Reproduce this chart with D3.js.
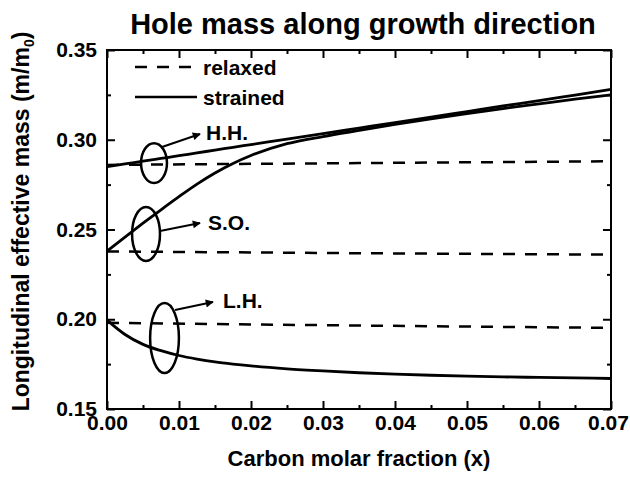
<!DOCTYPE html>
<html>
<head>
<meta charset="utf-8">
<script src="https://cdn.jsdelivr.net/npm/d3@7"></script>
<style>
  html, body { margin: 0; padding: 0; background: #fff; }
  svg text { font-family: "Liberation Sans", Arial, Helvetica, sans-serif; font-weight: bold; fill: #000; }
</style>
</head>
<body>
<svg id="chart" width="630" height="478"></svg>
<script>
// Carbon molar fraction sample points for the strained curves
const strainedX = [0, 0.0025, 0.005, 0.0075, 0.01, 0.0125, 0.015, 0.0175, 0.02, 0.025, 0.03, 0.035, 0.04, 0.045, 0.05, 0.055, 0.06, 0.065, 0.07];
// Longitudinal hole effective masses (m/m0), strained Si1-xCx
const hhStrained = [0.285, 0.2865, 0.2881, 0.2896, 0.2911, 0.2927, 0.2942, 0.2958, 0.2973, 0.3004, 0.3034, 0.3065, 0.3096, 0.3126, 0.3157, 0.3188, 0.3218, 0.3249, 0.328];
const soStrained = [0.238, 0.2458, 0.2535, 0.261, 0.2683, 0.2753, 0.2815, 0.2868, 0.2912, 0.2978, 0.3018, 0.3052, 0.3085, 0.3116, 0.3146, 0.3174, 0.32, 0.3226, 0.325];
const lhStrained = [0.1995, 0.1915, 0.186, 0.1825, 0.1798, 0.1778, 0.1762, 0.175, 0.174, 0.1724, 0.1712, 0.1702, 0.1694, 0.1688, 0.1683, 0.1679, 0.1676, 0.1673, 0.167];
// Relaxed alloy: nearly constant masses
const relaxedX = [0, 0.035, 0.07];
const hhRelaxed = [0.286, 0.287, 0.288];
const soRelaxed = [0.2378, 0.2368, 0.236];
const lhRelaxed = [0.198, 0.1965, 0.1952];

const xTicks = [0, 0.01, 0.02, 0.03, 0.04, 0.05, 0.06, 0.07];
const xMinorTicks = [0.005, 0.015, 0.025, 0.035, 0.045, 0.055, 0.065];
const yTicks = [0.15, 0.20, 0.25, 0.30, 0.35];
const yMinorTicks = [0.175, 0.225, 0.275, 0.325];

// Band labels with their ellipse (centre, radii) and arrow (from, to), in data units
const bandNotes = [
  { label: "H.H.", cx: 0.00653, cy: 0.2870, rx: 0.0018, ry: 0.0111, from: [0.00764, 0.2960], to: [0.01292, 0.3032], text: [0.01375, 0.2999] },
  { label: "S.O.", cx: 0.00542, cy: 0.2475, rx: 0.00194, ry: 0.0150, from: [0.00736, 0.2492], to: [0.01292, 0.2536], text: [0.01403, 0.2497] },
  { label: "L.H.", cx: 0.00799, cy: 0.1896, rx: 0.0020, ry: 0.0195, from: [0.00944, 0.2052], to: [0.01472, 0.2096], text: [0.01611, 0.2063] }
];

const W = 630, H = 478;
const margin = { top: 50, right: 19, bottom: 69, left: 107 };
const svg = d3.select("#chart");

const x = d3.scaleLinear().domain([0, 0.07]).range([margin.left, W - margin.right]);
const y = d3.scaleLinear().domain([0.15, 0.35]).range([H - margin.bottom, margin.top]);

const fmt = d3.format(".2f");

// Inward ticks on all four sides
function tickAxis(axisFn, scale, values, size, labels) {
  return axisFn(scale).tickValues(values).tickSizeInner(-size).tickSizeOuter(0)
    .tickPadding(labels ? 6 : 0).tickFormat(labels ? fmt : "");
}
const gBottom = svg.append("g").attr("transform", `translate(0,${y(0.15)})`);
gBottom.call(tickAxis(d3.axisBottom, x, xTicks, 8, true));
gBottom.append("g").call(tickAxis(d3.axisBottom, x, xMinorTicks, 4, false));
const gTop = svg.append("g").attr("transform", `translate(0,${y(0.35)})`);
gTop.call(tickAxis(d3.axisTop, x, xTicks, 8, false));
gTop.append("g").call(tickAxis(d3.axisTop, x, xMinorTicks, 4, false));
const gLeft = svg.append("g").attr("transform", `translate(${x(0)},0)`);
gLeft.call(tickAxis(d3.axisLeft, y, yTicks, 8, true));
gLeft.append("g").call(tickAxis(d3.axisLeft, y, yMinorTicks, 4, false));
const gRight = svg.append("g").attr("transform", `translate(${x(0.07)},0)`);
gRight.call(tickAxis(d3.axisRight, y, yTicks, 8, false));
gRight.append("g").call(tickAxis(d3.axisRight, y, yMinorTicks, 4, false));

svg.selectAll(".domain").remove();
svg.selectAll(".tick line").attr("stroke", "#000").attr("stroke-width", 2);
gBottom.selectAll(".tick text").attr("font-size", 21).attr("dy", "0.72em")
  .attr("dx", d => d === 0.07 ? -3 : 0);
gLeft.selectAll(".tick text").attr("font-size", 21).attr("dx", "-4");

// Frame
svg.append("rect")
  .attr("x", x(0)).attr("y", y(0.35))
  .attr("width", x(0.07) - x(0)).attr("height", y(0.15) - y(0.35))
  .attr("fill", "none").attr("stroke", "#000").attr("stroke-width", 2);

// Curves
const line = d3.line().curve(d3.curveMonotoneX);
const plot = svg.append("g");
function drawSeries(xs, ys, dashed) {
  plot.append("path")
    .attr("d", line(xs.map((v, i) => [x(v), y(ys[i])])))
    .attr("fill", "none").attr("stroke", "#000")
    .attr("stroke-width", dashed ? 2.5 : 2.8)
    .attr("stroke-dasharray", dashed ? "12,10" : null);
}
[hhRelaxed, soRelaxed, lhRelaxed].forEach(s => drawSeries(relaxedX, s, true));
[hhStrained, soStrained, lhStrained].forEach(s => drawSeries(strainedX, s, false));

// Arrow head marker
svg.append("defs").append("marker")
  .attr("id", "arrow").attr("viewBox", "0 0 10 10")
  .attr("refX", 9).attr("refY", 5)
  .attr("markerUnits", "userSpaceOnUse")
  .attr("markerWidth", 12).attr("markerHeight", 8).attr("orient", "auto")
  .append("path").attr("d", "M0,0 L10,5 L0,10 Z").attr("fill", "#000");

// Band annotations
const notes = svg.append("g");
bandNotes.forEach(n => {
  notes.append("ellipse")
    .attr("cx", x(n.cx)).attr("cy", y(n.cy))
    .attr("rx", x(n.rx) - x(0)).attr("ry", y(0.15) - y(0.15 + n.ry))
    .attr("fill", "none").attr("stroke", "#000").attr("stroke-width", 2.5);
  notes.append("line")
    .attr("x1", x(n.from[0])).attr("y1", y(n.from[1]))
    .attr("x2", x(n.to[0])).attr("y2", y(n.to[1]))
    .attr("stroke", "#000").attr("stroke-width", 2)
    .attr("marker-end", "url(#arrow)");
  notes.append("text")
    .attr("x", x(n.text[0])).attr("y", y(n.text[1]))
    .attr("font-size", 21).text(n.label);
});

// Legend
const legend = svg.append("g").attr("transform", `translate(${x(0)},${y(0.35)})`);
[["relaxed", "12,10", 17], ["strained", null, 47]].forEach(([name, dash, dy]) => {
  legend.append("line")
    .attr("x1", 28).attr("x2", 90).attr("y1", dy).attr("y2", dy)
    .attr("stroke", "#000").attr("stroke-width", 2.6)
    .attr("stroke-dasharray", dash);
  legend.append("text").attr("x", 96).attr("y", dy + 8)
    .attr("font-size", 21).text(name);
});

// Titles
svg.append("text")
  .attr("x", 363).attr("y", 34)
  .attr("text-anchor", "middle").attr("font-size", 29)
  .text("Hole mass along growth direction");

svg.append("text")
  .attr("x", (x(0) + x(0.07)) / 2).attr("y", 466)
  .attr("text-anchor", "middle").attr("font-size", 22)
  .text("Carbon molar fraction (x)");

const yTitle = svg.append("text")
  .attr("transform", `translate(29,${(y(0.15) + y(0.35)) / 2 - 8}) rotate(-90)`)
  .attr("text-anchor", "middle").attr("font-size", 23);
yTitle.append("tspan").text("Longitudinal effective mass (m/m");
yTitle.append("tspan").attr("font-size", 14).attr("dy", 5).text("0");
yTitle.append("tspan").attr("dy", -5).text(")");
</script>
</body>
</html>
